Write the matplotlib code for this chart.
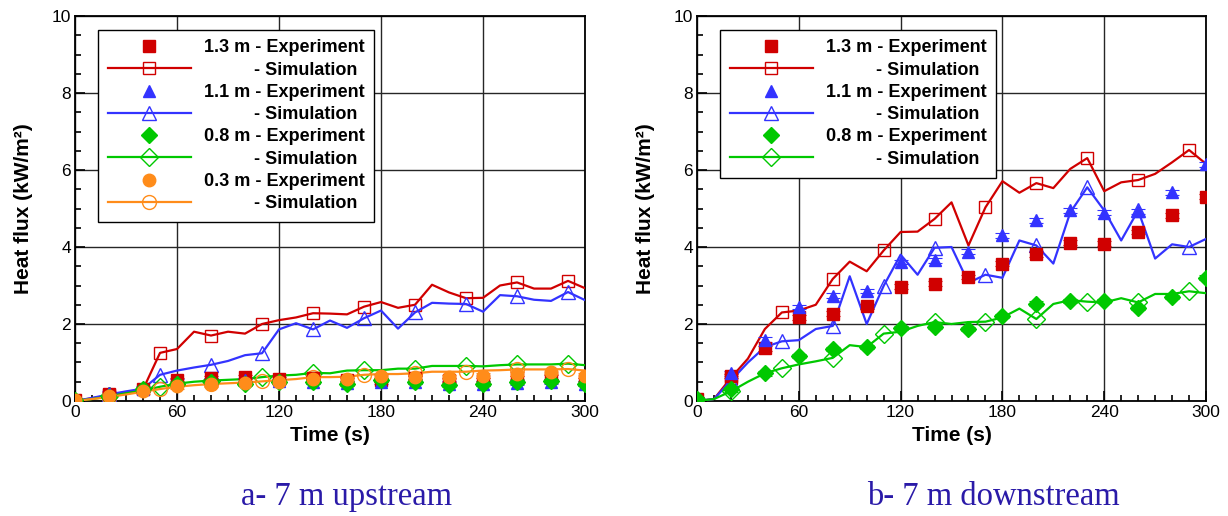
import matplotlib.pyplot as plt
import numpy as np
from matplotlib.ticker import MultipleLocator
from matplotlib.lines import Line2D

plt.rcParams['font.family'] = ['Liberation Sans', 'DejaVu Sans']

t_sim = np.arange(0, 301, 10)
t_exp = np.arange(0, 301, 20)

# a- 7 m upstream
up_sim_13 = [0, 0.07, 0.15, 0.22, 0.3, 1.25, 1.35, 1.8, 1.7, 1.8, 1.75, 2.0, 2.1, 2.17, 2.28, 2.27,
             2.25, 2.45, 2.57, 2.42, 2.5, 3.02, 2.82, 2.67, 2.68, 3.0, 3.08, 2.92, 2.92, 3.12, 2.93]
up_sim_11 = [0, 0.08, 0.17, 0.25, 0.32, 0.68, 0.79, 0.87, 0.94, 1.04, 1.19, 1.24, 1.86, 2.02, 1.86, 2.09,
             1.9, 2.15, 2.35, 1.88, 2.3, 2.55, 2.53, 2.52, 2.32, 2.75, 2.72, 2.63, 2.6, 2.83, 2.62]
up_sim_08 = [0, 0.05, 0.12, 0.2, 0.27, 0.37, 0.45, 0.5, 0.53, 0.55, 0.57, 0.62, 0.66, 0.68, 0.73, 0.72,
             0.79, 0.8, 0.8, 0.84, 0.84, 0.91, 0.91, 0.91, 0.9, 0.93, 0.95, 0.95, 0.95, 0.97, 0.93]
up_sim_03 = [0, 0.05, 0.1, 0.17, 0.24, 0.31, 0.37, 0.41, 0.44, 0.46, 0.48, 0.51, 0.54, 0.57, 0.62, 0.62,
             0.63, 0.68, 0.7, 0.7, 0.72, 0.76, 0.76, 0.76, 0.79, 0.8, 0.82, 0.82, 0.82, 0.83, 0.79]
up_exp_13 = [0.02, 0.17, 0.3, 0.55, 0.6, 0.62, 0.57, 0.6, 0.55, 0.55, 0.6, 0.55, 0.55, 0.6, 0.62, 0.55]
up_exp_11 = [0.02, 0.2, 0.32, 0.5, 0.55, 0.55, 0.52, 0.5, 0.47, 0.5, 0.5, 0.45, 0.45, 0.48, 0.5, 0.45]
up_exp_08 = [0.02, 0.1, 0.3, 0.45, 0.5, 0.45, 0.5, 0.5, 0.45, 0.55, 0.5, 0.42, 0.45, 0.5, 0.52, 0.45]
up_exp_03 = [0.02, 0.12, 0.25, 0.38, 0.43, 0.47, 0.5, 0.57, 0.56, 0.65, 0.62, 0.62, 0.66, 0.7, 0.76, 0.66]

# b- 7 m downstream
dn_sim_13 = [0, 0.05, 0.6, 1.1, 1.87, 2.3, 2.35, 2.5, 3.17, 3.62, 3.37, 3.91, 4.39, 4.4, 4.73, 5.16,
             4.04, 5.03, 5.71, 5.41, 5.66, 5.53, 6.03, 6.31, 5.45, 5.68, 5.74, 5.9, 6.2, 6.52, 6.16]
dn_sim_11 = [0, 0.05, 0.53, 1.0, 1.4, 1.55, 1.58, 1.87, 1.95, 3.24, 2.0, 2.99, 3.8, 3.28, 3.98, 4.0,
             3.07, 3.28, 3.2, 4.17, 4.04, 3.57, 4.9, 5.55, 4.95, 4.17, 4.95, 3.7, 4.07, 4.0, 4.21]
dn_sim_08 = [0, 0.05, 0.25, 0.5, 0.72, 0.85, 0.95, 1.03, 1.12, 1.45, 1.4, 1.75, 1.8, 1.95, 2.05, 2.0,
             2.05, 2.06, 2.17, 2.4, 2.13, 2.52, 2.62, 2.58, 2.56, 2.67, 2.56, 2.78, 2.78, 2.85, 2.8]
dn_exp_13 = [0.05, 0.65, 1.37, 2.17, 2.27, 2.46, 2.97, 3.05, 3.22, 3.57, 3.81, 4.11, 4.09, 4.39, 4.82, 5.31]
dn_exp_11 = [0.05, 0.72, 1.59, 2.44, 2.74, 2.86, 3.61, 3.65, 3.88, 4.3, 4.69, 4.95, 4.89, 4.93, 5.42, 6.15]
dn_exp_08 = [0.05, 0.3, 0.72, 1.17, 1.35, 1.4, 1.9, 1.93, 1.87, 2.21, 2.53, 2.6, 2.6, 2.42, 2.7, 3.2]

heights = ['1.3 m', '1.1 m', '0.8 m', '0.3 m']
colors = ['#d00000', '#3333ff', '#00c800', '#ff8c1a']
markers = ['s', '^', 'D', 'o']
msizes = [8, 9, 8, 9]
captions = ['a- 7 m upstream', 'b- 7 m downstream']


def draw_panel(ax, sims, exps, caption, cap_x):
    handles, labels = [], []
    for i, sim in enumerate(sims):
        ax.plot(t_sim, sim, color=colors[i], lw=1.6, marker=markers[i], ms=msizes[i] + 1,
                mfc='none', mew=1.0, markevery=slice(2, None, 3), zorder=3)
    for i, exp in enumerate(exps):
        ax.errorbar(t_exp, exp, yerr=0.06, fmt=markers[i], color=colors[i], ms=msizes[i],
                    capsize=5, elinewidth=0.8, capthick=0.8, zorder=4)
    for i in range(len(sims)):
        handles.append(Line2D([], [], ls='none', marker=markers[i], color=colors[i], ms=msizes[i]))
        labels.append(heights[i] + ' - Experiment')
        handles.append(Line2D([], [], color=colors[i], lw=1.6, marker=markers[i], ms=msizes[i] + 1,
                              mfc='none', mew=1.0))
        labels.append('          - Simulation')

    ax.set_xlim(0, 300)
    ax.set_ylim(0, 10)
    ax.xaxis.set_major_locator(MultipleLocator(60))
    ax.xaxis.set_minor_locator(MultipleLocator(10))
    ax.yaxis.set_major_locator(MultipleLocator(2))
    ax.yaxis.set_minor_locator(MultipleLocator(0.5))
    ax.tick_params(which='both', direction='in', labelsize=12.5, width=1.2)
    ax.tick_params(which='major', length=7, pad=3)
    ax.tick_params(which='minor', length=4)
    ax.grid(True, which='major', color='0.15', lw=1.0)
    for s in ax.spines.values():
        s.set_linewidth(1.3)
    ax.set_xlabel('Time (s)', fontsize=15, fontweight='bold', labelpad=4)
    ax.set_ylabel('Heat flux (kW/m²)', fontsize=15, fontweight='bold', labelpad=13)

    leg = ax.legend(handles, labels, loc='upper left', bbox_to_anchor=(0.045, 0.965),
                    prop={'weight': 'bold', 'size': 13}, handlelength=4.6,
                    handletextpad=0.7, labelspacing=0.29, borderpad=0.55, fancybox=False,
                    framealpha=1, edgecolor='black', borderaxespad=0)
    leg.get_frame().set_linewidth(1.0)

    fig.text(cap_x, 0.008, caption, ha='center', va='bottom',
             family='Liberation Serif', fontsize=23.5, color='#2a1aa8')


fig = plt.figure(figsize=(12.28, 5.16), dpi=100)
ax1 = fig.add_axes([0.0611, 0.2229, 0.4153, 0.746])
ax2 = fig.add_axes([0.5676, 0.2229, 0.4145, 0.746])

draw_panel(ax1, [up_sim_13, up_sim_11, up_sim_08, up_sim_03],
           [up_exp_13, up_exp_11, up_exp_08, up_exp_03], captions[0], 0.2826)
draw_panel(ax2, [dn_sim_13, dn_sim_11, dn_sim_08],
           [dn_exp_13, dn_exp_11, dn_exp_08], captions[1], 0.8086)

fig.savefig('out.png', dpi=100)
